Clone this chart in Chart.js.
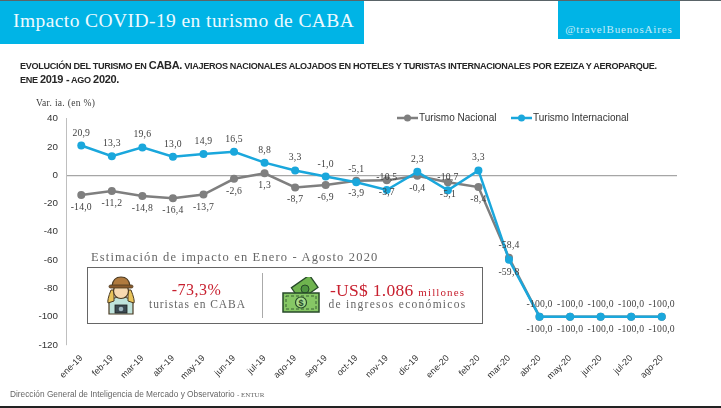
<!DOCTYPE html>
<html>
<head>
<meta charset="utf-8">
<script src="https://cdn.jsdelivr.net/npm/chart.js@4"></script>
<style>
  html, body { margin: 0; padding: 0; background: #fff; }
  #page { position: relative; width: 721px; height: 408px; overflow: hidden; font-family: "Liberation Sans", sans-serif; }
  #page > * { position: absolute; }
  canvas { left: 0; top: 0; }
  .topline { left: 0; top: 0; width: 721px; height: 1px; background: #5a6468; }
  .bottomline { left: 0; top: 406px; width: 721px; height: 2px; background: #222; }
  .header { left: 0; top: 1px; width: 364px; height: 43px; background: #00b4e6; color: #eefaff; font: 19.5px "Liberation Serif", serif; letter-spacing: 0.42px; line-height: 40px; text-indent: 13px; white-space: nowrap; }
  .handle { left: 558px; top: 1px; width: 122px; height: 38px; background: #00b4e6; color: #c4ecf8; font: 11px "Liberation Serif", serif; letter-spacing: 0.85px; line-height: 56px; text-align: center; white-space: nowrap; }
  .subtitle { left: 20px; top: 59px; width: 680px; color: #262626; font-weight: bold; font-size: 9.1px; line-height: 13px; letter-spacing: -0.32px; white-space: nowrap; }
  .subtitle b { font-size: 11px; }
  .unit { left: 36px; top: 98px; font: 9.5px "Liberation Serif", serif; color: #404040; letter-spacing: 0.3px; }
  .boxtitle { left: 91px; top: 250px; font: 12.5px "Liberation Serif", serif; color: #666; letter-spacing: 1.16px; white-space: nowrap; }
  .box { left: 87px; top: 267px; width: 394px; height: 55px; border: 1.5px solid #666; background: #fff; }
  .divider { left: 262px; top: 273px; width: 1px; height: 45px; background: #aaa; }
  .big { font-family: "Liberation Serif", serif; color: #c8202f; white-space: nowrap; text-align: center; }
  .small { font-family: "Liberation Serif", serif; color: #666; white-space: nowrap; text-align: center; }
  .footer { left: 10px; top: 389px; font-size: 8.3px; color: #666; white-space: nowrap; }
  .footer span { font: 7px "Liberation Serif", serif; }
</style>
</head>
<body>
<div id="page">
  <canvas id="chart" width="721" height="408"></canvas>
  <div class="topline"></div>
  <div class="header">Impacto COVID-19 en turismo de CABA</div>
  <div class="handle">@travelBuenosAires</div>
  <div class="subtitle">EVOLUCIÓN DEL TURISMO EN <b>CABA.</b> VIAJEROS NACIONALES ALOJADOS EN HOTELES Y TURISTAS INTERNACIONALES POR EZEIZA Y AEROPARQUE.<br>ENE <b>2019 -</b> AGO <b>2020.</b></div>
  <div class="unit">Var. ia. (en %)</div>
  <div class="boxtitle">Estimación de impacto en Enero - Agosto 2020</div>
  <div class="box"></div>
  <div class="divider"></div>

  <svg style="left:103px;top:276px" width="36" height="40" viewBox="0 0 36 40">
    <path d="M6 38 L6 27 Q8 21 18 21 Q28 21 30 27 L30 38 Z" fill="#bfe3dc" stroke="#4a3a22" stroke-width="1.2"/>
    <path d="M8 14 Q4 24 5 27 L11 25 L11 14 Z M28 14 Q32 24 31 27 L25 25 L25 14 Z" fill="#e8c35a" stroke="#4a3a22" stroke-width="1"/>
    <circle cx="18" cy="15" r="7.5" fill="#f7d9b0" stroke="#4a3a22" stroke-width="1.2"/>
    <path d="M9 10 Q10 1 18 1 Q26 1 27 10 Z" fill="#b07a3e" stroke="#4a3a22" stroke-width="1.2"/>
    <rect x="6" y="9" width="24" height="3" rx="1.5" fill="#8a5a2b" stroke="#4a3a22" stroke-width="0.8"/>
    <rect x="12" y="29" width="12" height="8" fill="#3b4a52" stroke="#222" stroke-width="0.8"/>
    <circle cx="18" cy="33" r="2.3" fill="#9fb6c0"/>
  </svg>

  <svg style="left:282px;top:277px" width="40" height="38" viewBox="0 0 40 38">
    <rect x="12" y="3" width="22" height="15" transform="rotate(-35 23 11)" fill="#6fb44f" stroke="#274a2a" stroke-width="1.3"/>
    <circle cx="23" cy="12" r="4" fill="#4e9440" stroke="#274a2a"/>
    <rect x="1" y="16" width="36" height="19" fill="#86c765" stroke="#274a2a" stroke-width="1.5"/>
    <rect x="4" y="19" width="30" height="13" fill="none" stroke="#274a2a" stroke-width="0.8" stroke-dasharray="3 2"/>
    <circle cx="19" cy="25.5" r="5.5" fill="#a8dc8b" stroke="#274a2a" stroke-width="1.2"/>
    <text x="19" y="29" text-anchor="middle" font-size="9" font-weight="bold" fill="#274a2a" font-family="Liberation Sans">$</text>
  </svg>

  <div class="big" style="left:144px;top:281px;width:105px;font-size:16px;letter-spacing:.5px">-73,3%</div>
  <div class="small" style="left:145px;top:298px;width:105px;font-size:11.5px;letter-spacing:.95px">turistas en CABA</div>
  <div class="big" style="left:325px;top:280px;width:145px;font-size:17.5px;letter-spacing:.3px">-US$ 1.086 <span style="font-size:11px;letter-spacing:1.1px">millones</span></div>
  <div class="small" style="left:325px;top:298px;width:145px;font-size:11.5px;letter-spacing:1.28px">de ingresos económicos</div>

  <div class="footer">Dirección General de Inteligencia de Mercado y Observatorio <span>- ENTUR</span></div>
  <div class="bottomline"></div>
</div>

<script>
const categories = ['ene-19','feb-19','mar-19','abr-19','may-19','jun-19','jul-19','ago-19','sep-19','oct-19','nov-19','dic-19','ene-20','feb-20','mar-20','abr-20','may-20','jun-20','jul-20','ago-20'];
const turismoNacional = [-14.0,-11.2,-14.8,-16.4,-13.7,-2.6,1.3,-8.7,-6.9,-3.9,-3.7,-0.4,-5.1,-8.4,-58.4,-100,-100,-100,-100,-100];
const turismoInternacional = [20.9,13.3,19.6,13.0,14.9,16.5,8.8,3.3,-1.0,-5.1,-10.5,2.3,-10.7,3.3,-59.8,-100,-100,-100,-100,-100];
const yTicks = [40,20,0,-20,-40,-60,-80,-100,-120];

const GRAY = '#7f7f7f';
const BLUE = '#1aa7dc';

// label goes above (-1) or below (1) the point
const nacionalSide = categories.map((c, i) => i >= 14 ? -1 : 1);
const internacionalSide = categories.map((c, i) => i >= 14 ? 1 : -1);

function fmt(v) {
    return v.toFixed(1).replace('.', ',');
}

const pointLabels = {
    id: 'pointLabels',
    afterDatasetsDraw(chart) {
        const ctx = chart.ctx;
        const sides = [nacionalSide, internacionalSide];
        ctx.save();
        ctx.font = '9.7px "Liberation Serif", serif';
        ctx.fillStyle = '#404040';
        ctx.textAlign = 'center';
        ctx.textBaseline = 'middle';
        ctx.letterSpacing = '0.2px';
        chart.data.datasets.forEach((ds, d) => {
            chart.getDatasetMeta(d).data.forEach((pt, i) => {
                ctx.fillText(fmt(ds.data[i]), pt.x, pt.y + sides[d][i] * 12.5);
            });
        });
        ctx.restore();
    }
};

const lineLegend = {
    id: 'lineLegend',
    afterDraw(chart) {
        const ctx = chart.ctx;
        const items = [[397, 0], [511, 1]];
        ctx.save();
        ctx.font = '10px "Liberation Sans", sans-serif';
        ctx.textBaseline = 'middle';
        items.forEach(([x, d]) => {
            const ds = chart.data.datasets[d];
            ctx.strokeStyle = ds.borderColor;
            ctx.fillStyle = ds.borderColor;
            ctx.lineWidth = 2.5;
            ctx.beginPath();
            ctx.moveTo(x, 118);
            ctx.lineTo(x + 21, 118);
            ctx.stroke();
            ctx.beginPath();
            ctx.arc(x + 10.5, 118, 3.5, 0, Math.PI * 2);
            ctx.fill();
            ctx.fillStyle = '#333';
            ctx.fillText(ds.label, x + 22, 118);
        });
        ctx.restore();
    }
};

new Chart(document.getElementById('chart').getContext('2d'), {
    type: 'line',
    data: {
        labels: categories,
        datasets: [
            { label: 'Turismo Nacional', data: turismoNacional, order: 1, borderColor: GRAY, backgroundColor: GRAY, borderWidth: 2.5, pointRadius: 4, pointBackgroundColor: GRAY, pointBorderWidth: 0, tension: 0 },
            { label: 'Turismo Internacional', data: turismoInternacional, order: 0, borderColor: BLUE, backgroundColor: BLUE, borderWidth: 2.5, pointRadius: 4, pointBackgroundColor: BLUE, pointBorderWidth: 0, tension: 0 }
        ]
    },
    plugins: [pointLabels, lineLegend],
    options: {
        responsive: false,
        animation: false,
        layout: { padding: { left: 20, right: 44, top: 118.5, bottom: 0 } },
        plugins: { legend: { display: false }, title: { display: false }, tooltip: { enabled: false } },
        scales: {
            y: {
                min: -120,
                max: 40,
                afterFit(scale) { scale.width = 46; },
                afterBuildTicks(scale) { scale.ticks = yTicks.map(v => ({ value: v })); },
                border: { display: true, color: '#bfbfbf' },
                grid: {
                    drawTicks: false,
                    color: ctx => ctx.tick && ctx.tick.value === 0 ? '#a6a6a6' : 'transparent',
                    lineWidth: 1.2
                },
                ticks: { padding: 8, color: '#333', font: { family: "'Liberation Sans', sans-serif", size: 9.8 } }
            },
            x: {
                offset: true,
                afterFit(scale) { scale.height = 63; },
                border: { display: false },
                grid: { display: false },
                ticks: { autoSkip: false, minRotation: 45, maxRotation: 45, padding: 0, color: '#333', font: { family: "'Liberation Sans', sans-serif", size: 9 } }
            }
        }
    }
});
</script>
</body>
</html>
